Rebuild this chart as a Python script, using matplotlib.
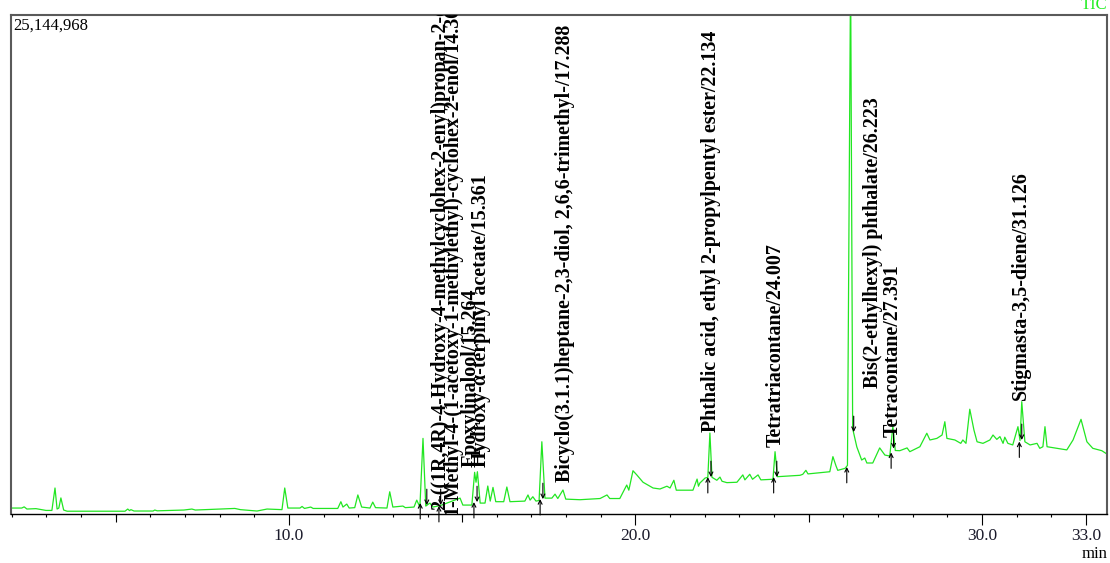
import matplotlib
matplotlib.use('Agg')
import matplotlib.pyplot as plt

# Times-like serif for all text, like the instrument printout
plt.rcParams['font.family'] = ['Liberation Serif', 'DejaVu Serif']

# TIC trace: retention time (min) and intensity (millions of counts)
time_min = [
    1.98, 2.29, 2.36, 2.44, 2.70, 2.99, 3.16, 3.25, 3.31, 3.36, 3.42, 3.50, 3.60,
    5.27, 5.35, 5.40, 5.44, 5.53, 6.08, 6.13, 6.20, 6.97, 7.20, 7.30, 8.44, 8.60,
    9.08, 9.37, 9.80, 9.88, 9.97, 10.32, 10.38, 10.45, 10.63, 10.70, 11.41, 11.50,
    11.56, 11.67, 11.74, 11.90, 11.99, 12.10, 12.34, 12.42, 12.50, 12.83, 12.91,
    13.00, 13.29, 13.36, 13.61, 13.69, 13.78, 13.87, 13.95, 14.07, 14.15, 14.36,
    14.94, 15.02, 15.28, 15.36, 15.40, 15.44, 15.52, 15.66, 15.74, 15.81, 15.89,
    15.97, 16.20, 16.29, 16.38, 16.81, 16.90, 16.96, 17.04, 17.13, 17.22, 17.30,
    17.39, 17.59, 17.68, 17.76, 17.91, 17.99, 18.40, 18.98, 19.18, 19.26, 19.55,
    19.75, 19.81, 19.93, 20.04, 20.22, 20.51, 20.71, 20.91, 21.00, 21.11, 21.18,
    21.66, 21.78, 21.82, 21.86, 22.01, 22.09, 22.15, 22.21, 22.35, 22.44, 22.50,
    22.64, 22.93, 23.10, 23.16, 23.30, 23.38, 23.54, 23.62, 23.97, 24.03, 24.10,
    24.75, 24.83, 24.92, 24.98, 25.32, 25.61, 25.70, 25.79, 25.84, 26.05, 26.12,
    26.21, 26.27, 26.39, 26.53, 26.62, 26.68, 26.85, 27.05, 27.20, 27.34, 27.43,
    27.50, 27.63, 27.84, 27.92, 28.21, 28.36, 28.41, 28.50, 28.70, 28.85, 28.93,
    28.99, 29.22, 29.39, 29.45, 29.54, 29.65, 29.77, 29.86, 30.03, 30.23, 30.32,
    30.43, 30.52, 30.61, 30.66, 30.75, 30.89, 31.04, 31.10, 31.15, 31.24, 31.39,
    31.59, 31.67, 31.76, 31.82, 31.88, 32.16, 32.45, 32.63, 32.86, 33.03, 33.20,
    33.46, 33.61,
]
intensity = [
    0.30, 0.30, 0.36, 0.25, 0.27, 0.18, 0.18, 1.31, 0.25, 0.30, 0.81, 0.20, 0.14,
    0.14, 0.25, 0.17, 0.22, 0.15, 0.15, 0.20, 0.16, 0.20, 0.25, 0.20, 0.28, 0.22,
    0.15, 0.25, 0.22, 1.31, 0.30, 0.30, 0.38, 0.28, 0.35, 0.28, 0.28, 0.62,
    0.35, 0.50, 0.30, 0.32, 0.96, 0.35, 0.30, 0.60, 0.32, 0.30, 1.12,
    0.35, 0.40, 0.32, 0.35, 0.70, 0.35, 3.81, 0.40, 0.55, 0.35, 0.42,
    0.80, 0.45, 0.45, 2.10, 1.60, 2.13, 0.55, 0.55, 1.41, 0.65, 1.34,
    0.62, 0.62, 1.36, 0.62, 0.65, 0.96, 0.70, 0.87, 0.65, 0.68, 3.64,
    0.80, 0.80, 1.00, 0.78, 1.21, 0.75, 0.72, 0.78, 0.96, 0.78, 0.78,
    1.46, 1.20, 2.18, 1.97, 1.60, 1.31, 1.26, 1.40, 1.31, 1.70, 1.20,
    1.20, 1.76, 1.40, 1.56, 1.81, 1.85, 4.08, 1.85, 1.70, 1.86, 1.65,
    1.58, 1.60, 1.97, 1.72, 2.00, 1.75, 1.97, 1.72, 1.75, 3.14, 1.88,
    1.95, 2.00, 2.20, 2.02, 2.08, 2.13, 2.89, 2.42, 2.20, 2.30, 2.45,
    27.5, 4.30, 3.38, 2.72, 2.82, 2.57, 2.57, 3.33, 2.97, 2.92, 4.40,
    3.20, 3.19, 3.33, 3.14, 3.39, 3.90, 4.07, 3.73, 3.81, 3.98, 4.65,
    3.81, 3.73, 3.56, 3.73, 3.56, 5.28, 4.23, 3.64, 3.56, 3.73, 3.98,
    3.76, 3.90, 3.56, 3.87, 3.56, 3.48, 4.40, 3.70, 5.66, 3.64, 3.48,
    3.56, 3.31, 3.39, 4.40, 3.39, 3.31, 3.23, 3.73, 4.77, 3.64, 3.31,
    3.19, 3.02,
]

# identified compounds: name/RT, where the vertical label stands and where it starts
label_names = [
    '2-((1R,4R)-4-Hydroxy-4-methylcyclohex-2-enyl)propan-2-ol/13.866',
    '1-Methyl-4-(1-acetoxy-1-methylethyl)-cyclohex-2-enol/14.364',
    'Epoxylinalool/15.264',
    'Hydroxy-\u03b1-terpinyl acetate/15.361',
    'Bicyclo(3.1.1)heptane-2,3-diol, 2,6,6-trimethyl-/17.288',
    'Phthalic acid, ethyl 2-propylpentyl ester/22.134',
    'Tetratriacontane/24.007',
    'Bis(2-ethylhexyl) phthalate/26.223',
    'Tetracontane/27.391',
    'Stigmasta-3,5-diene/31.126',
]
label_time = [14.36, 14.73, 15.25, 15.54, 17.97, 22.18, 24.06, 26.85, 27.43, 31.13]
label_base = [0.20, -0.05, 2.37, 2.37, 1.61, 4.13, 3.38, 6.35, 3.88, 5.75]

# integration marks (start and end of each integrated peak)
mark_start_time = [13.79, 14.33, 15.34, 17.25, 22.09, 23.99, 26.10, 27.38, 31.08]
mark_start_level = [0.55, 0.40, 0.60, 0.75, 1.86, 1.86, 2.37, 3.10, 3.65]
mark_end_time = [13.98, 14.38, 15.43, 17.33, 22.18, 24.08, 26.30, 27.45, 31.15]
mark_end_level = [0.45, 0.45, 0.60, 0.75, 1.86, 1.86, 4.13, 3.30, 3.73]

full_scale = 25144968
x_start, x_end = 1.98, 33.61

fig = plt.figure(figsize=(11.1, 5.63), dpi=100)
ax = fig.add_axes([11 / 1110, 49 / 563, 1096 / 1110, 499 / 563])

# the chromatogram itself
ax.plot(time_min, intensity, color='#22e622', lw=0.9, zorder=2)
ax.set_xlim(x_start, x_end)
ax.set_ylim(0, full_scale / 1e6)

# integration start/end arrows
for t, lev in zip(mark_start_time, mark_start_level):
    ax.annotate('', xy=(t, lev), xytext=(t, lev - 0.8),
                arrowprops=dict(arrowstyle='->', color='black', lw=0.8,
                                mutation_scale=7, shrinkA=0, shrinkB=0), zorder=3)
for t, lev in zip(mark_end_time, mark_end_level):
    ax.annotate('', xy=(t, lev), xytext=(t, lev + 0.8),
                arrowprops=dict(arrowstyle='->', color='black', lw=0.8,
                                mutation_scale=7, shrinkA=0, shrinkB=0), zorder=3)

# vertical compound labels, clipped by the frame like in the printout
for name, t, b in zip(label_names, label_time, label_base):
    ax.text(t, b, name, rotation=90, ha='center', va='bottom', fontsize=14.4,
            fontweight='bold', color='black', clip_on=True, zorder=4)

# frame
for side in ['left', 'top', 'right']:
    ax.spines[side].set_color('#5a5a5a')
    ax.spines[side].set_linewidth(1.5)
ax.spines['bottom'].set_color('black')
ax.spines['bottom'].set_linewidth(1.0)

# x ticks: labelled, every 5 min, every minute
ax.set_yticks([])
ax.set_xticks([10, 20, 30, 33])
ax.set_xticklabels(['10.0', '20.0', '30.0', '33.0'], fontsize=12.5, color='#1a1a2a')
ax.set_xticks(range(2, 34), minor=True)
ax.tick_params(axis='x', which='major', length=8, width=0.8, pad=2)
ax.tick_params(axis='x', which='minor', length=2.5, width=0.8)
mid = ax.secondary_xaxis('bottom')
mid.set_xticks([5, 15, 25])
mid.set_xticklabels([])
mid.tick_params(length=5.5, width=0.8)
mid.spines['bottom'].set_visible(False)

# full-scale value, axis unit and trace name (name mostly cut off by the top edge)
ax.text(0.002, 0.994, f'{full_scale:,}', transform=ax.transAxes,
        ha='left', va='top', fontsize=12)
fig.text(1107 / 1110, 1 - 558 / 563, 'min', ha='right', va='baseline', fontsize=12)
fig.text(1107 / 1110, 1 - 9 / 563, 'TIC', ha='right', va='baseline', fontsize=12, color='#22ee22')

fig.savefig('out.png', dpi=100)
